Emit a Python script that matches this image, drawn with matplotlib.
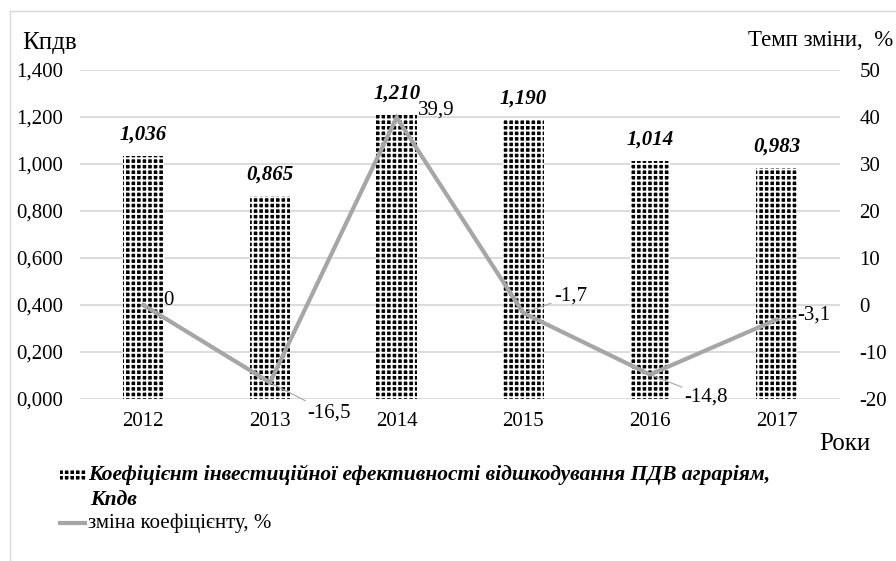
import matplotlib
matplotlib.use("Agg")
import matplotlib.pyplot as plt
from matplotlib.patches import Rectangle
from matplotlib.lines import Line2D

plt.rcParams["font.family"] = ["Liberation Serif", "DejaVu Serif"]
plt.rcParams["hatch.linewidth"] = 1.4
plt.rcParams["axes.unicode_minus"] = False

years = ["2012", "2013", "2014", "2015", "2016", "2017"]
kpdv = [1.036, 0.865, 1.210, 1.190, 1.014, 0.983]
change = [0, -16.5, 39.9, -1.7, -14.8, -3.1]

# label offsets (points) for the line data labels
lbl_off = [(14, 3), (27, -22), (15, 5), (22, 12), (25, -16), (15, 3)]
lbl_leader = [False, True, False, True, True, True]

LINE_COL = "#a6a6a6"
GRID_COL = "#d9d9d9"
FS = 15
# black face with a white grid hatch -> small black squares
HATCH = "+++"


def comma(v, nd):
    return f"{v:.{nd}f}".replace(".", ",")


fig = plt.figure(figsize=(8.96, 5.61), dpi=100)
ax = fig.add_axes([80 / 896, 1 - 399 / 561, 760 / 896, 329 / 561])
ax2 = ax.twinx()

x = list(range(len(years)))
bars = ax.bar(x, kpdv, width=0.32, color="black", edgecolor="white",
              hatch=HATCH, linewidth=0, zorder=2)

ax.set_xlim(-0.5, len(years) - 0.5)
ax.set_ylim(0, 1.4)
ax.set_yticks([i * 0.2 for i in range(8)])
ax.set_yticklabels([comma(i * 0.2, 3) for i in range(8)])
ax.set_xticks(x)
ax.set_xticklabels(years)
ax.yaxis.grid(True, color=GRID_COL, linewidth=1.3, zorder=0)
ax.set_axisbelow(True)
ax.tick_params(length=0, labelsize=FS, pad=12)
ax.tick_params(axis="x", pad=9)
for s in ax.spines.values():
    s.set_visible(False)

for xi, v in zip(x, kpdv):
    ax.annotate(comma(v, 3), (xi, v), xytext=(0, 8), textcoords="offset points",
                ha="center", va="bottom", fontsize=FS, fontweight="bold",
                fontstyle="italic")

ax2.plot(x, change, color=LINE_COL, linewidth=3, solid_joinstyle="miter", zorder=3)
ax2.set_ylim(-20, 50)
ax2.set_yticks(range(-20, 51, 10))
ax2.tick_params(length=0, labelsize=FS, pad=14)
for s in ax2.spines.values():
    s.set_visible(False)

for xi, v, off, ld in zip(x, change, lbl_off, lbl_leader):
    ax2.annotate(comma(v, 1) if v != 0 else "0", (xi, v), xytext=off,
                 textcoords="offset points", ha="left", va="center", fontsize=FS,
                 arrowprops=dict(arrowstyle="-", color=LINE_COL, lw=0.8,
                                 shrinkA=0, shrinkB=0) if ld else None)

# axis titles
fig.text(22 / 896, 1 - 43 / 561, "Кпдв", fontsize=18, ha="left", va="center")
fig.text(893 / 896, 1 - 41 / 561, "Темп зміни,  %", fontsize=16.5, ha="right", va="center")
fig.text(870 / 896, 1 - 444 / 561, "Роки", fontsize=18, ha="right", va="center")

# legend
fig.add_artist(Rectangle((60 / 896, 1 - 481 / 561), 26 / 896, 12 / 561,
                         transform=fig.transFigure, facecolor="black",
                         edgecolor="white", hatch=HATCH, linewidth=0))
fig.text(88 / 896, 1 - 475 / 561,
         "Коефіцієнт інвестиційної ефективності відшкодування ПДВ аграріям,",
         fontsize=15.5, fontweight="bold", fontstyle="italic", ha="left", va="center")
fig.text(90 / 896, 1 - 500 / 561, "Кпдв", fontsize=15.5, fontweight="bold",
         fontstyle="italic", ha="left", va="center")
fig.add_artist(Line2D([60 / 896, 85 / 896], [1 - 523 / 561, 1 - 523 / 561],
                      transform=fig.transFigure, color=LINE_COL, linewidth=3))
fig.text(88 / 896, 1 - 523 / 561, "зміна коефіцієнту, %", fontsize=FS,
         ha="left", va="center")

# chart area border
fig.add_artist(Line2D([9.5 / 896, 9.5 / 896], [0, 1 - 11 / 561],
                      transform=fig.transFigure, color=GRID_COL, linewidth=1))
fig.add_artist(Line2D([9.5 / 896, 1], [1 - 11 / 561, 1 - 11 / 561],
                      transform=fig.transFigure, color=GRID_COL, linewidth=1))

fig.savefig("out.png", dpi=100)
